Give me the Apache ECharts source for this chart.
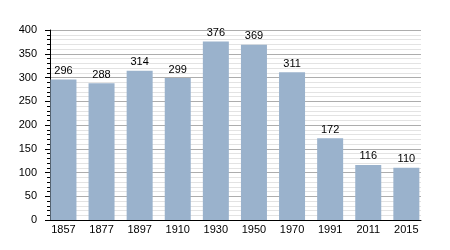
<!DOCTYPE html>
<html><head><meta charset="utf-8">
<script src="https://cdn.jsdelivr.net/npm/echarts@6/dist/echarts.min.js"></script>
<style>html,body{margin:0;padding:0;background:#fff}#c{width:450px;height:250px}</style>
</head><body><div id="c"></div>
<script>
const years = ['1857','1877','1897','1910','1930','1950','1970','1991','2011','2015'];
const population = [296, 288, 314, 299, 376, 369, 311, 172, 116, 110];
const yMin = 0, yMax = 400, yStep = 50;

const font = 'Liberation Sans, Arial, sans-serif';
const chart = echarts.init(document.getElementById('c'), null, {renderer:'canvas'});
chart.setOption({
  animation: false,
  backgroundColor: '#fff',
  grid: [
    {left: 50, right: 29, top: 30, bottom: 30},
    {left: 44.4, right: 24.6, top: 30, bottom: 30}
  ],
  xAxis: [
    {type:'category', gridIndex:0, data: years,
     axisLine:{show:true, lineStyle:{color:'#000', width:1}},
     axisTick:{show:false}, axisLabel:{show:false}, splitLine:{show:false}},
    {type:'category', gridIndex:1, data: years,
     axisLine:{show:false}, axisTick:{show:false},
     axisLabel:{show:true, color:'#000', fontSize:11, fontFamily:font, margin:4},
     splitLine:{show:false}}
  ],
  yAxis: [
    {type:'value', gridIndex:0, min:yMin, max:yMax, interval:yStep,
     axisLine:{show:true, lineStyle:{color:'#000', width:1}},
     axisTick:{show:true, length:5, lineStyle:{color:'#000'}},
     minorTick:{show:true, splitNumber:5, length:3, lineStyle:{color:'#000'}},
     axisLabel:{color:'#000', fontSize:11, fontFamily:font, margin:13},
     splitLine:{show:true, lineStyle:{color:'#adadad', width:1}},
     minorSplitLine:{show:true, lineStyle:{color:'#e3e3e3', width:1}}},
    {type:'value', gridIndex:1, min:yMin, max:yMax, interval:yStep, show:false,
     splitLine:{show:false}}
  ],
  series: [{
    type:'bar', xAxisIndex:1, yAxisIndex:1, data: population,
    barWidth: 26,
    itemStyle:{color:'#9ab2cc'},
    label:{show:true, position:'top', distance:3, color:'#000', fontSize:11, fontFamily:font}
  }]
});
</script></body></html>
